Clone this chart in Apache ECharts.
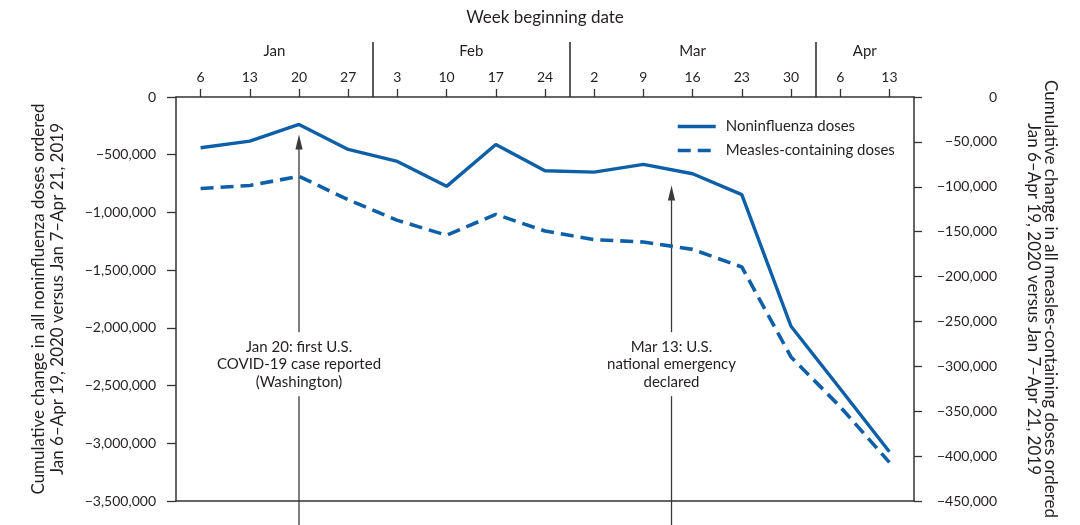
<!DOCTYPE html>
<html>
<head>
<meta charset="utf-8">
<script src="https://cdn.jsdelivr.net/npm/echarts@6/dist/echarts.min.js"></script>
<style>
html,body{margin:0;padding:0;background:#fff;}
#chart{width:1080px;height:525px;}
</style>
</head>
<body>
<div id="chart"></div>
<script>
// ---- data ----
const weeks = ['Jan 6','Jan 13','Jan 20','Jan 27','Feb 3','Feb 10','Feb 17','Feb 24','Mar 2','Mar 9','Mar 16','Mar 23','Mar 30','Apr 6','Apr 13'];
const noninfluenza = [-440000,-382000,-238000,-454000,-558000,-774000,-411000,-639000,-651000,-584000,-665000,-846000,-1986000,-2527000,-3073000];
const measles = [-102000,-98500,-88400,-114400,-137400,-154000,-130700,-149300,-158900,-161500,-169700,-189300,-289500,-345000,-407000];
const seriesNames = ['Noninfluenza doses','Measles-containing doses'];
const leftTicks = {min:-3500000, max:0, interval:500000};
const rightTicks = {min:-450000, max:0, interval:50000};
const xTitle = 'Week beginning date';
const leftTitle = 'Cumulative change in all noninfluenza doses ordered\nJan 6–Apr 19, 2020 versus Jan 7–Apr 21, 2019';
const rightTitle = 'Cumulative change in all measles-containing doses ordered\nJan 6–Apr 19, 2020 versus Jan 7–Apr 21, 2019';
const annotations = [
  {week:'Jan 20', days:0, tip:-324500, textAt:-2314600, text:'Jan 20: first U.S.\nCOVID-19 case reported\n(Washington)'},
  {week:'Mar 9', days:4, tip:-765800, textAt:-2314600, text:'Mar 13: U.S.\nnational emergency\ndeclared'}
];

// ---- derived month bands ----
const months = [];
weeks.forEach((w,i)=>{
  const m = w.split(' ')[0];
  if(!months.length || months[months.length-1].name!==m) months.push({name:m,start:i,end:i+1});
  else months[months.length-1].end = i+1;
});
const monthBoundaries = months.slice(1).map(m=>m.start);
const monthCenters = months.map(m=>(m.start+m.end)/2);
const monthNameAt = {};
months.forEach(m=>{monthNameAt[(m.start+m.end)/2]=m.name;});

const TXT = '#231f20';
const AX = '#333333';
const BLUE = '#0d60a8';
const FONT = 'Lato';

function fmt(v){
  if(v===0) return '0';
  return (v<0?'\u2212':'') + Math.abs(v).toLocaleString('en-US');
}

const chart = echarts.init(document.getElementById('chart'));
const option = {
  animation:false,
  backgroundColor:'#fff',
  textStyle:{fontFamily:FONT},
  grid:{left:176, right:166, top:97, bottom:24, containLabel:false},
  legend:{
    left:671, top:114, orient:'vertical',
    itemWidth:38, itemHeight:14, itemGap:9,
    itemStyle:{opacity:0},
    lineStyle:{width:3.5},
    textStyle:{fontSize:15, color:TXT, fontFamily:FONT, padding:[0,0,0,5]},
    data:seriesNames
  },
  xAxis:[
    {
      type:'category', data:weeks, position:'top', boundaryGap:true,
      axisLine:{show:true, onZero:false, lineStyle:{color:AX, width:1.5}},
      axisTick:{show:true, alignWithLabel:true, length:8, lineStyle:{color:AX, width:1.3}},
      axisLabel:{show:true, interval:0, margin:13, fontSize:14, color:TXT, fontFamily:FONT,
        formatter:v=>v.split(' ')[1]},
      splitLine:{show:false}
    },
    {
      type:'value', min:0, max:weeks.length, position:'top',
      axisLine:{show:false, onZero:false},
      axisTick:{show:true, customValues:monthBoundaries, length:55, lineStyle:{color:AX, width:1.6}},
      axisLabel:{show:true, customValues:monthCenters, margin:38, fontSize:15, color:TXT, fontFamily:FONT,
        formatter:v=>monthNameAt[v]||''},
      splitLine:{show:false}
    },
    {
      type:'category', data:weeks, position:'bottom',
      axisLine:{show:true, onZero:false, lineStyle:{color:AX, width:1.5}},
      axisTick:{show:false}, axisLabel:{show:false}, splitLine:{show:false}
    }
  ],
  yAxis:[
    {
      type:'value', position:'left', min:leftTicks.min, max:leftTicks.max, interval:leftTicks.interval,
      axisLine:{show:true, onZero:false, lineStyle:{color:AX, width:1.5}},
      axisTick:{show:true, length:9, lineStyle:{color:AX, width:1.3}},
      axisLabel:{margin:20, fontSize:14, color:TXT, fontFamily:FONT, formatter:fmt},
      splitLine:{show:false}
    },
    {
      type:'value', position:'right', min:rightTicks.min, max:rightTicks.max, interval:rightTicks.interval,
      axisLine:{show:true, onZero:false, lineStyle:{color:AX, width:1.5}},
      axisTick:{show:true, length:8, lineStyle:{color:AX, width:1.3}},
      axisLabel:{margin:83, align:'right', fontSize:14, color:TXT, fontFamily:FONT, formatter:fmt},
      splitLine:{show:false}
    }
  ],
  series:[
    {name:seriesNames[0], type:'line', xAxisIndex:0, yAxisIndex:0, data:noninfluenza,
     symbol:'none', color:BLUE, lineStyle:{color:BLUE, width:3.4, type:'solid'}},
    {name:seriesNames[1], type:'line', xAxisIndex:0, yAxisIndex:1, data:measles,
     symbol:'none', color:BLUE, lineStyle:{color:BLUE, width:3.6, type:[13,7]}}
  ]
};
chart.setOption(option);

// ---- titles and annotations via library coordinates ----
const g = [];
const cx = chart.convertToPixel({xAxisIndex:1}, weeks.length/2);
const midY = (chart.convertToPixel({yAxisIndex:0}, leftTicks.max) + chart.convertToPixel({yAxisIndex:0}, leftTicks.min))/2;
g.push({type:'text', x:cx, y:18, style:{text:xTitle, fill:TXT, font:'17px '+FONT, align:'center', verticalAlign:'middle'}});
g.push({type:'text', x:48, y:midY, rotation:Math.PI/2,
  style:{text:leftTitle, fill:TXT, font:'17px '+FONT, align:'center', verticalAlign:'middle', lineHeight:19}});
g.push({type:'text', x:1042, y:midY, rotation:-Math.PI/2,
  style:{text:rightTitle, fill:TXT, font:'17px '+FONT, align:'center', verticalAlign:'middle', lineHeight:17}});

annotations.forEach(a=>{
  const idx = weeks.indexOf(a.week);
  const x = chart.convertToPixel({xAxisIndex:1}, idx + 0.5 + a.days/7);
  const tipY = chart.convertToPixel({yAxisIndex:0}, a.tip);
  const ty = chart.convertToPixel({yAxisIndex:0}, a.textAt);
  const ls = {stroke:'#3a3a3a', lineWidth:1.3};
  g.push({type:'line', shape:{x1:x, y1:tipY+12, x2:x, y2:ty-32}, style:ls});
  g.push({type:'line', shape:{x1:x, y1:ty+32, x2:x, y2:525}, style:ls});
  g.push({type:'polygon', shape:{points:[[x,tipY],[x-3.6,tipY+15],[x+3.6,tipY+15]]}, style:{fill:'#3a3a3a'}});
  g.push({type:'text', x:x, y:ty, style:{text:a.text, fill:TXT, font:'15px '+FONT, align:'center', verticalAlign:'middle', lineHeight:17.5}});
});
chart.setOption({graphic:g});
</script>
</body>
</html>
